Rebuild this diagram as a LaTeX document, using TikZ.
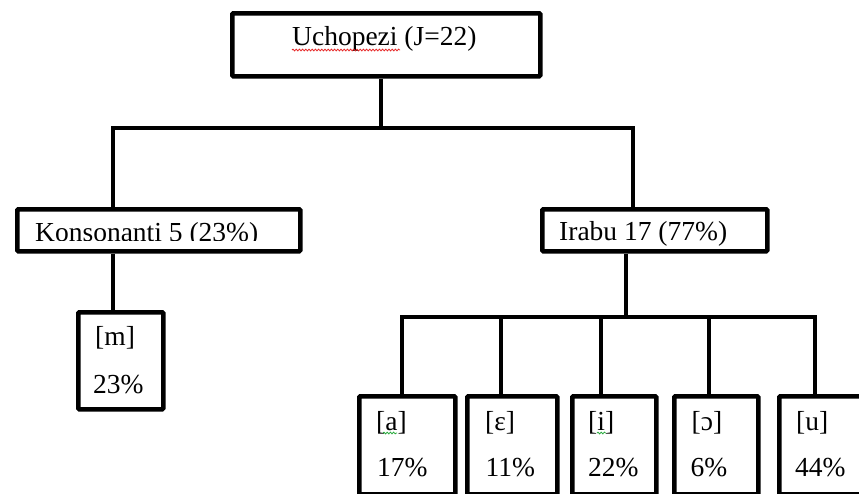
\documentclass[tikz,border=0pt]{standalone}
\usepackage{fontspec}
\setmainfont{Liberation Serif}
\usetikzlibrary{decorations.pathmorphing}
\definecolor{spellred}{RGB}{230,40,40}
\definecolor{spellgreen}{RGB}{40,170,60}
\begin{document}
\begin{tikzpicture}[x=1pt,y=-1pt,
  box/.style={draw, line width=4.5pt, rounded corners=1pt, inner sep=0pt, anchor=north west},
  wire/.style={line width=4.5pt},
  lbl/.style={anchor=base west, inner sep=0pt, font=\fontsize{27.5}{30}\selectfont},
  spell/.style={decorate, decoration={snake, amplitude=0.9pt, segment length=3.2pt}, line width=0.8pt}]
\useasboundingbox (0,0) rectangle (859,493);

% boxes
\node[box, minimum width=308pt, minimum height=63pt] (root)  at (230,11)  {};
\node[box, minimum width=283pt, minimum height=42pt] (kons)  at (15,207)  {};
\node[box, minimum width=225pt, minimum height=42pt] (irabu) at (540,207) {};
\node[box, minimum width=85pt,  minimum height=97pt] (m)     at (76,310)  {};
\node[box, minimum width=96pt,  minimum height=98pt] (a)     at (357,394) {};
\node[box, minimum width=90pt,  minimum height=98pt] (e)     at (465,394) {};
\node[box, minimum width=84pt,  minimum height=98pt] (i)     at (570,394) {};
\node[box, minimum width=84pt,  minimum height=98pt] (o)     at (672,394) {};
\node[box, minimum width=110pt, minimum height=98pt] (u)     at (777,394) {};

% junction points of the tree
\coordinate (rootbar) at (381,128);
\coordinate (kbar) at (113,128);
\coordinate (ibar) at (633,128);
\coordinate (vbar) at (626,317);
\coordinate (da) at (402,317);
\coordinate (de) at (501,317);
\coordinate (di) at (601,317);
\coordinate (do) at (709,317);
\coordinate (du) at (815,317);

% connectors
\draw[wire] (root.south -| rootbar) -- (rootbar);
\draw[wire] (kons.north -| kbar) -- (kbar) -- (ibar) -- (irabu.north -| ibar);
\draw[wire] (kons.south -| kbar) -- (m.north -| kbar);
\draw[wire] (irabu.south -| vbar) -- (vbar);
\draw[wire] (a.north -| da) -- (da) -- (du) -- (u.north -| du);
\draw[wire] (de) -- (e.north -| de);
\draw[wire] (di) -- (i.north -| di);
\draw[wire] (do) -- (o.north -| do);

% labels
\node[lbl] (troot) at (292,45.5) {Uchopezi (J=22)};
\begin{scope}
  \clip (17,209) rectangle (296,240);
  \node[lbl] (tkons) at (35,241.3) {Konsonanti 5 (23\%)};
\end{scope}
\node[lbl] (tirabu) at (559,240) {Irabu 17 (77\%)};

\node[lbl] (mt) at (95,345) {[m]};
\node[lbl] (mp) at (93,393) {23\%};

\node[lbl] (at) at (376,430) {[a]};
\node[lbl] (ap) at (377,476.5) {17\%};
\node[lbl] (et) at (485,430) {[ɛ]};
\node[lbl] (ep) at (485.5,476.5) {11\%};
\node[lbl] (it) at (588,430) {[i]};
\node[lbl] (ip) at (588,476.5) {22\%};
\node[lbl] (ot) at (691.5,430) {[ɔ]};
\node[lbl] (op) at (690.5,476.5) {6\%};
\node[lbl] (ut) at (796,430) {[u]};
\node[lbl] (up) at (795,476.5) {44\%};

% proofing underlines
\draw[spell, spellred] (292,50) -- (400,50);
\draw[spell, spellgreen] (383,433) -- (397,433);
\draw[spell, spellgreen] (597,433) -- (606,433);
\end{tikzpicture}
\end{document}
